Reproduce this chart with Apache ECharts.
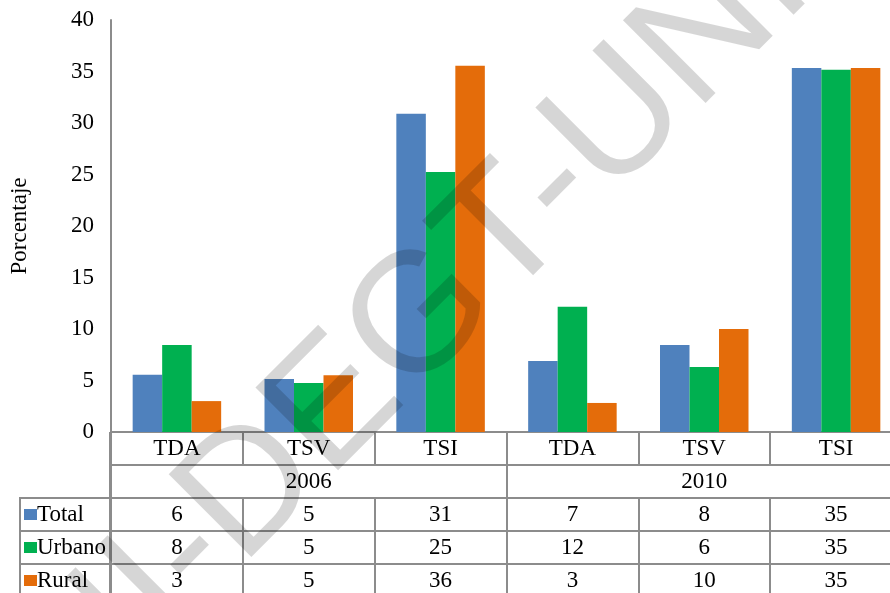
<!DOCTYPE html>
<html>
<head>
<meta charset="utf-8">
<script src="https://cdn.jsdelivr.net/npm/echarts@6/dist/echarts.min.js"></script>
<style>html,body{margin:0;padding:0;background:#fff;overflow:hidden;width:890px;height:593px;}#c{width:902px;height:593px;}</style>
</head>
<body>
<div id="c"></div>
<script>
const categories = ['TDA', 'TSV', 'TSI', 'TDA', 'TSV', 'TSI'];
const years = ['2006', '2010'];
const seriesNames = ['Total', 'Urbano', 'Rural'];
const totalValues = [5.55, 5.15, 30.9, 6.9, 8.45, 35.35];
const urbanoValues = [8.45, 4.76, 25.25, 12.15, 6.3, 35.18];
const ruralValues = [3.0, 5.5, 35.57, 2.82, 10.0, 35.35];
const tableTotal = ['6', '5', '31', '7', '8', '35'];
const tableUrbano = ['8', '5', '25', '12', '6', '35'];
const tableRural = ['3', '5', '36', '3', '10', '35'];
const yAxisName = 'Porcentaje';
const watermark = 'UNI-DEGT-UNI';

const colors = ['#4F81BD', '#00B050', '#E46C0A'];
const serif = '"Liberation Serif", "DejaVu Serif", serif';
const lineColor = '#8c8c8c';
const fs = 23;

const chart = echarts.init(document.getElementById('c'));

function rowAxis(data, offset) {
  return {
    type: 'category', gridIndex: 0, position: 'bottom', offset: offset,
    data: data,
    axisLine: { show: true, lineStyle: { color: lineColor, width: 2 } },
    axisTick: { show: true, length: 33, interval: 0, lineStyle: { color: lineColor, width: 2 } },
    axisLabel: { interval: 0, margin: 5, color: '#000', fontFamily: serif, fontSize: fs },
    splitLine: { show: false }
  };
}

const seriesValues = [totalValues, urbanoValues, ruralValues];

const gl = (x1, y1, x2, y2) => ({
  type: 'line', silent: true, z: 5,
  shape: { x1: x1, y1: y1, x2: x2, y2: y2 },
  style: { stroke: lineColor, lineWidth: 2 }
});

chart.setOption({
  animation: false,
  color: colors,
  grid: { left: 110, top: 20, right: 0, height: 412, containLabel: false },
  legend: {
    orient: 'vertical', left: 24, top: 503, padding: 0,
    itemWidth: 13, itemHeight: 11, itemGap: 10, icon: 'rect',
    textStyle: { color: '#000', fontFamily: serif, fontSize: fs, padding: [0, 0, 0, -5] },
    data: seriesNames
  },
  xAxis: [
    rowAxis(categories, 0),
    rowAxis(years, 33),
    rowAxis(tableTotal, 66),
    rowAxis(tableUrbano, 99),
    rowAxis(tableRural, 132)
  ],
  yAxis: {
    type: 'value', min: 0, max: 40, interval: 5,
    name: yAxisName, nameLocation: 'middle', nameGap: 80, nameRotate: 90,
    nameTextStyle: { color: '#000', fontFamily: serif, fontSize: fs },
    axisLine: { show: true, lineStyle: { color: lineColor, width: 2 } },
    axisTick: { show: false },
    splitLine: { show: false },
    axisLabel: { color: '#000', fontFamily: serif, fontSize: fs, margin: 17 }
  },
  series: seriesNames.map((n, i) => ({
    name: n, type: 'bar', xAxisIndex: 0, data: seriesValues[i],
    barWidth: 29.5, barGap: '0%',
    itemStyle: { color: colors[i] }
  })),
  graphic: [
    gl(110, 432, 110, 593),
    gl(20, 498, 110, 498),
    gl(20, 531, 110, 531),
    gl(20, 564, 110, 564),
    gl(20, 497, 20, 593),
    {
      type: 'text', silent: true, z: 100,
      x: 372, y: 370, rotation: Math.PI / 4,
      style: {
        text: watermark, x: 0, y: 0,
        font: '170px "Liberation Sans", Arial, sans-serif',
        fill: 'rgba(0,0,0,0.16)', align: 'center', verticalAlign: 'middle'
      }
    }
  ]
});
</script>
</body>
</html>
